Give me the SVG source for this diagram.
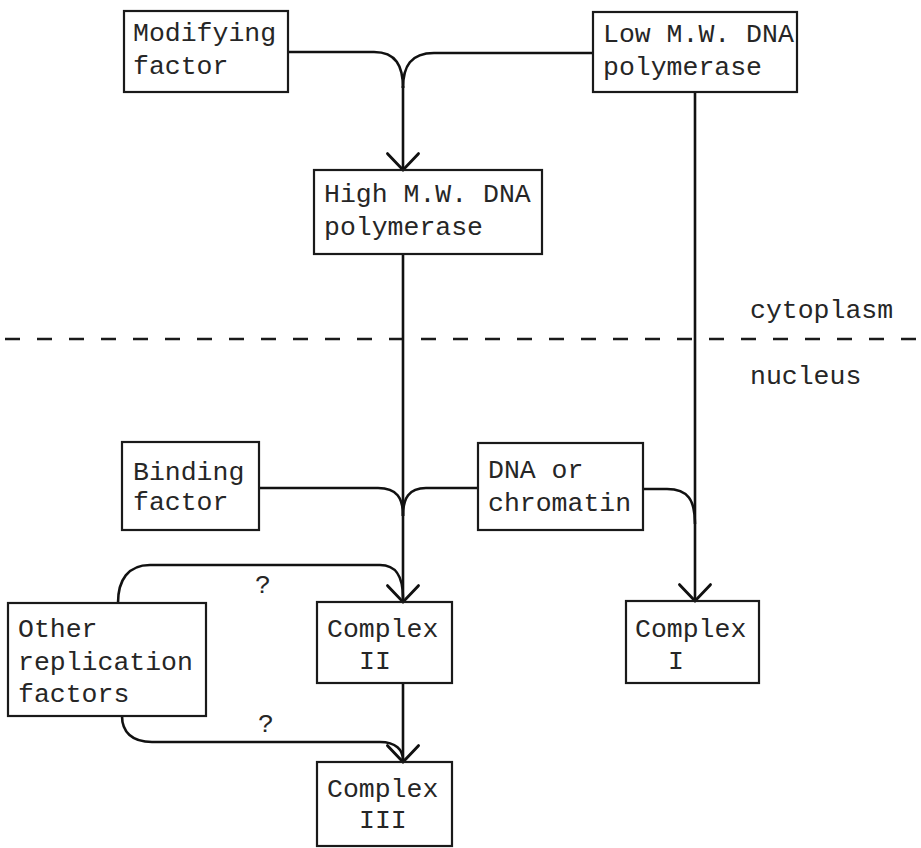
<svg xmlns="http://www.w3.org/2000/svg" width="921" height="848" viewBox="0 0 921 848">
  <style>
    .box { fill: none; stroke: #1a1a1a; stroke-width: 2.2; }
    .lbl { font-family: "Liberation Mono", "Courier New", monospace; font-size: 26.5px; fill: #262626; }
    .wire { fill: none; stroke: #111; stroke-width: 2.6; }
    .divider { fill: none; stroke: #1a1a1a; stroke-width: 2.4; stroke-dasharray: 15 17; }
  </style>
  <defs>
    <marker id="barb" markerUnits="userSpaceOnUse" markerWidth="40" markerHeight="40" refX="0" refY="0" viewBox="-22 -22 44 44" orient="auto" overflow="visible">
      <path d="M -18 -17 L 0 0 L -18 17" fill="none" stroke="#111" stroke-width="3.2" stroke-linecap="round"/>
    </marker>
  </defs>
  <rect width="921" height="848" fill="#ffffff"/>

  <!-- compartment boundary -->
  <g id="boundary">
    <line class="divider" x1="5" y1="339" x2="918" y2="339"/>
    <text class="lbl" x="750" y="318">cytoplasm</text>
    <text class="lbl" x="750" y="384">nucleus</text>
  </g>

  <!-- connectors -->
  <g id="connectors">
    <path class="wire" d="M 288 52 H 374 C 396 52 403 66 403 88"/>
    <path class="wire" d="M 593 53 H 434 C 411 53 403 66 403 88"/>
    <path class="wire" d="M 403 86 V 170" marker-end="url(#barb)"/>
    <path class="wire" d="M 695 92 V 601" marker-end="url(#barb)"/>
    <path class="wire" d="M 403 254 V 602" marker-end="url(#barb)"/>
    <path class="wire" d="M 259 488 H 378 C 397 488 403 498 403 516"/>
    <path class="wire" d="M 478 488 H 426 C 409 488 403 498 403 516"/>
    <path class="wire" d="M 643 489 H 667 C 688 489 695 500 695 524"/>
    <path class="wire" d="M 118 603 C 118 580 128 565 150 565 H 380 C 396 565 403 576 403 598"/>
    <path class="wire" d="M 122 716 C 122 732 132 742 152 742 H 380 C 396 742 403 750 403 760"/>
    <path class="wire" d="M 403 683 V 762" marker-end="url(#barb)"/>
    <text class="lbl" x="255" y="593">?</text>
    <text class="lbl" x="258" y="732">?</text>
  </g>

  <g id="modifying-factor">
    <rect class="box" x="124" y="11" width="164" height="81"/>
    <text class="lbl" x="133" y="41">Modifying</text>
    <text class="lbl" x="133" y="74">factor</text>
  </g>

  <g id="low-mw-polymerase">
    <rect class="box" x="593" y="12" width="204" height="80"/>
    <text class="lbl" x="603" y="42">Low M.W. DNA</text>
    <text class="lbl" x="603" y="75">polymerase</text>
  </g>

  <g id="high-mw-polymerase">
    <rect class="box" x="314" y="170" width="228" height="84"/>
    <text class="lbl" x="324" y="202">High M.W. DNA</text>
    <text class="lbl" x="324" y="235">polymerase</text>
  </g>

  <g id="binding-factor">
    <rect class="box" x="122" y="442" width="137" height="88"/>
    <text class="lbl" x="133" y="480">Binding</text>
    <text class="lbl" x="133" y="510">factor</text>
  </g>

  <g id="dna-chromatin">
    <rect class="box" x="478" y="443" width="165" height="87"/>
    <text class="lbl" x="488" y="478">DNA or</text>
    <text class="lbl" x="488" y="511">chromatin</text>
  </g>

  <g id="other-factors">
    <rect class="box" x="8" y="603" width="198" height="113"/>
    <text class="lbl" x="18" y="637">Other</text>
    <text class="lbl" x="18" y="670">replication</text>
    <text class="lbl" x="18" y="702">factors</text>
  </g>

  <g id="complex-2">
    <rect class="box" x="317" y="602" width="135" height="81"/>
    <text class="lbl" x="327" y="637">Complex</text>
    <text class="lbl" x="359" y="669">II</text>
  </g>

  <g id="complex-1">
    <rect class="box" x="626" y="601" width="133" height="82"/>
    <text class="lbl" x="635" y="637">Complex</text>
    <text class="lbl" x="668" y="669">I</text>
  </g>

  <g id="complex-3">
    <rect class="box" x="317" y="762" width="135" height="84"/>
    <text class="lbl" x="327" y="797">Complex</text>
    <text class="lbl" x="359" y="828">III</text>
  </g>
</svg>
